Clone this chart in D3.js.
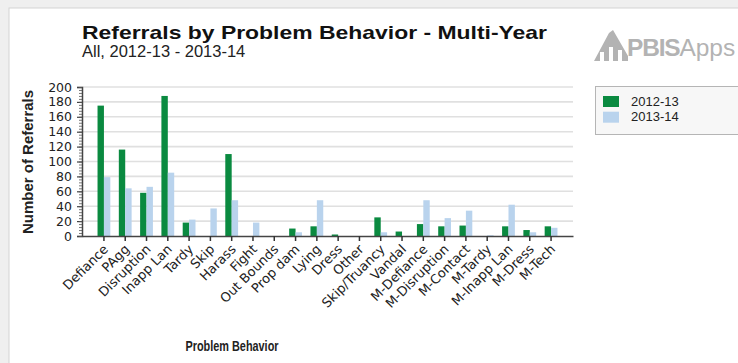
<!DOCTYPE html>
<html><head><meta charset="utf-8">
<script src="https://cdn.jsdelivr.net/npm/d3@7"></script>
<style>
html,body{margin:0;padding:0;background:#efefef;}
svg{display:block;font-family:"Liberation Sans",Arial,sans-serif;}
</style></head>
<body>
<svg id="chart" width="738" height="363"></svg>
<script>
const categories = ["Defiance","PAgg","Disruption","Inapp Lan","Tardy","Skip","Harass","Fight","Out Bounds","Prop dam","Lying","Dress","Other","Skip/Truancy","Vandal","M-Defiance","M-Disruption","M-Contact","M-Tardy","M-Inapp Lan","M-Dress","M-Tech"];
const seriesNames = ["2012-13","2013-14"];
const values2012 = [175,116,58,188,18,0,110,0,0,10,13,2,0,25,6,16,13,14,0,13,8,13];
const values2013 = [79,64,66,85,22,37,48,18,0,5,48,0,0,5,0,48,24,34,1,42,5,11];
const yTicks = [0,20,40,60,80,100,120,140,160,180,200];
const colors = ["#0a8a40","#b9d3ed"];

(function(){
const svg = d3.select("#chart");
svg.append("rect").attr("x",9).attr("y",8).attr("width",760).attr("height",380)
  .attr("fill","#fff").attr("stroke","#d4d4d4");

const pL=82, pR=573, pT=87, pB=236;
const x = d3.scaleBand().domain(categories).range([pL,pR]).paddingInner(0).paddingOuter(0.53);
const y = d3.scaleLinear().domain([0,200]).range([pB,pT]);
const x1 = d3.scaleBand().domain(seriesNames).range([-6.4,6.4]);

svg.append("g").selectAll("line").data(yTicks.filter(d=>d>0)).join("line")
  .attr("x1",pL).attr("x2",pR).attr("y1",d=>y(d)).attr("y2",d=>y(d))
  .attr("stroke","#e0e0e0").attr("stroke-width",1.6);

const data = categories.map((c,i)=>({cat:c, vals:[values2012[i],values2013[i]]}));
svg.append("g").selectAll("g").data(data).join("g")
  .attr("transform",d=>`translate(${x(d.cat)+x.bandwidth()/2},0)`)
  .selectAll("rect").data(d=>d.vals.map((v,j)=>({s:seriesNames[j],v,j}))).join("rect")
  .attr("x",d=>x1(d.s)).attr("width",x1.bandwidth())
  .attr("y",d=>y(d.v)).attr("height",d=>pB-y(d.v))
  .attr("fill",d=>colors[d.j]);

const yAxis = svg.append("g").attr("transform",`translate(${pL},0)`)
  .call(d3.axisLeft(y).tickValues(yTicks).tickSize(5).tickPadding(5));
yAxis.select(".domain").attr("stroke","#444").attr("stroke-width",1.5);
yAxis.selectAll(".tick line").attr("stroke","#444").attr("stroke-width",1.2);
yAxis.selectAll("text").attr("font-size",12.5).attr("fill","#222").attr("font-family","DejaVu Sans, sans-serif");
svg.append("g").attr("transform",`translate(${pL},0)`)
  .call(d3.axisLeft(y).tickValues(d3.range(0,201,4)).tickSize(3).tickFormat(""))
  .call(a=>{a.select(".domain").remove(); a.selectAll("line").attr("stroke","#555").attr("stroke-width",0.8);});

const xAxis = svg.append("g").attr("transform",`translate(0,${pB})`)
  .call(d3.axisBottom(x).tickSize(5).tickSizeOuter(0).tickFormat(""));
xAxis.select(".domain").attr("stroke","#444").attr("stroke-width",1.5);
xAxis.selectAll(".tick line").attr("stroke","#333").attr("stroke-width",1.5);
svg.append("g").selectAll("text").data(categories).join("text")
  .attr("transform",d=>`translate(${x(d)+x.bandwidth()/2+5},${pB+14}) rotate(-45)`)
  .attr("text-anchor","end").attr("font-size",13).attr("fill","#222")
  .attr("font-family","DejaVu Sans, sans-serif")
  .text(d=>d);

svg.append("text").attr("x",82).attr("y",38.5).attr("font-size",19).attr("font-weight","bold")
  .attr("fill","#111").attr("textLength",465).attr("lengthAdjust","spacingAndGlyphs")
  .text("Referrals by Problem Behavior - Multi-Year");
svg.append("text").attr("x",82).attr("y",57).attr("font-size",16.5).attr("fill","#222")
  .text("All, 2012-13 - 2013-14");
svg.append("text").attr("transform","translate(33,162) rotate(-90)").attr("text-anchor","middle")
  .attr("font-size",15).attr("font-weight","bold").attr("fill","#222").text("Number of Referrals");
svg.append("text").attr("x",232).attr("y",351).attr("text-anchor","middle")
  .attr("font-size",15).attr("font-weight","bold").attr("fill","#222")
  .attr("textLength",93).attr("lengthAdjust","spacingAndGlyphs").text("Problem Behavior");

const logo = svg.append("g").attr("fill","#b3b3b3");
logo.append("path").attr("d","M594,61 L609,33 L613,30 L628,56 L628,61 L622,61 L622,50 L618,50 L618,61 L613,61 L613,47 L609,47 L609,61 L604,61 L604,52 L600,52 L600,61 Z");
const lt = logo.append("text").attr("x",627).attr("y",56).attr("font-size",24.5);
lt.append("tspan").attr("font-weight","bold").attr("letter-spacing",-1.2).text("PBIS");
lt.append("tspan").attr("font-weight","normal").text("Apps");

svg.append("rect").attr("x",595.5).attr("y",86.5).attr("width",160).attr("height",48)
  .attr("fill","#f7f7f7").attr("stroke","#b5b5b5");
const lg = svg.append("g").selectAll("g").data(seriesNames).join("g")
  .attr("transform",(d,i)=>`translate(603,${96+i*15.7})`);
lg.append("rect").attr("width",16).attr("height",11).attr("fill",(d,i)=>colors[i]);
lg.append("text").attr("x",28).attr("y",9.5).attr("font-size",13).attr("fill","#222").text(d=>d);
})();
</script>
</body></html>
